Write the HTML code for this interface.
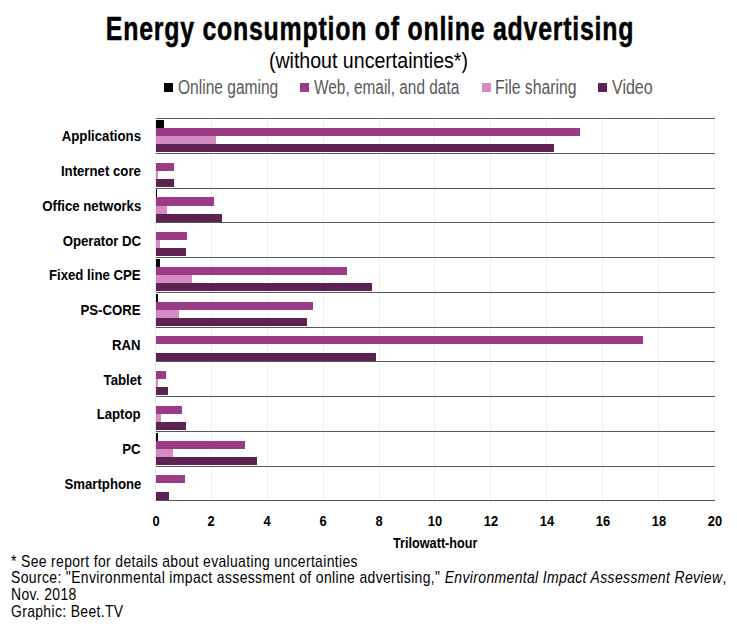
<!DOCTYPE html>
<html><head><meta charset="utf-8">
<style>
html,body{margin:0;padding:0;background:#fff;width:737px;height:638px;overflow:hidden;position:relative}
div{position:absolute;white-space:nowrap;line-height:1}
.g{top:118px;width:1px;height:383px;background:#f0f0f0}
.b{}
.h{left:156px;width:559px;height:1px;background:#595959}
.title{left:2px;width:737px;top:10px;text-align:center;font:bold 32.8px "Liberation Sans",sans-serif;color:#000}
.title span,.sub span{display:inline-block}
.title span{-webkit-text-stroke:0.5px #000;letter-spacing:1px}
.sub{left:0;width:737px;top:48px;text-align:center;font:22.5px "Liberation Sans",sans-serif;color:#000}
.lg{top:76px;font:20px "Liberation Sans",sans-serif;color:#595959;transform-origin:0 0}
.sq{top:83px;width:9px;height:9px}
.cl{right:596px;font:bold 15.5px "Liberation Sans",sans-serif;color:#000;transform:scaleX(0.852);transform-origin:100% 0}
.tk{top:512px;width:60px;text-align:center;font:bold 15px "Liberation Sans",sans-serif;color:#000;transform:scaleX(0.86)}
.ax{left:393px;top:533.5px;font:bold 15px "Liberation Sans",sans-serif;color:#000;transform:scaleX(0.845);transform-origin:0 0}
.fn{left:11px;font:15.75px "Liberation Sans",sans-serif;color:#000;letter-spacing:0.4px;transform-origin:0 0}
</style></head><body>
<div class="title"><span style="transform:scaleX(0.759)">Energy consumption of online advertising</span></div>
<div class="sub"><span style="transform:scaleX(0.87)">(without uncertainties*)</span></div>
<div class="sq" style="left:164px;background:#000"></div><div class="lg" style="left:178px;transform:scaleX(0.777)">Online gaming</div>
<div class="sq" style="left:300px;background:#9b3b85"></div><div class="lg" style="left:314px;transform:scaleX(0.770)">Web, email, and data</div>
<div class="sq" style="left:482px;background:#d48bc2"></div><div class="lg" style="left:495px;transform:scaleX(0.789)">File sharing</div>
<div class="sq" style="left:598px;background:#5c2352"></div><div class="lg" style="left:612px;transform:scaleX(0.80)">Video</div>
<div class="g" style="left:155px"></div>
<div class="g" style="left:211px"></div>
<div class="g" style="left:267px"></div>
<div class="g" style="left:323px"></div>
<div class="g" style="left:379px"></div>
<div class="g" style="left:434px"></div>
<div class="g" style="left:490px"></div>
<div class="g" style="left:546px"></div>
<div class="g" style="left:602px"></div>
<div class="g" style="left:658px"></div>
<div class="g" style="left:714px"></div>
<div class="b" style="left:156px;top:120px;width:8px;height:8px;background:#000000"></div>
<div class="b" style="left:156px;top:128px;width:424px;height:8px;background:#9b3b85"></div>
<div class="b" style="left:156px;top:136px;width:60px;height:8px;background:#d48bc2"></div>
<div class="b" style="left:156px;top:144px;width:398px;height:8px;background:#5c2352"></div>
<div class="b" style="left:156px;top:163px;width:18px;height:8px;background:#9b3b85"></div>
<div class="b" style="left:156px;top:171px;width:2px;height:8px;background:#d48bc2"></div>
<div class="b" style="left:156px;top:179px;width:18px;height:8px;background:#5c2352"></div>
<div class="b" style="left:156px;top:189px;width:1px;height:8px;background:#000000"></div>
<div class="b" style="left:156px;top:197px;width:58px;height:9px;background:#9b3b85"></div>
<div class="b" style="left:156px;top:206px;width:11px;height:8px;background:#d48bc2"></div>
<div class="b" style="left:156px;top:214px;width:66px;height:8px;background:#5c2352"></div>
<div class="b" style="left:156px;top:232px;width:31px;height:8px;background:#9b3b85"></div>
<div class="b" style="left:156px;top:240px;width:4px;height:8px;background:#d48bc2"></div>
<div class="b" style="left:156px;top:248px;width:30px;height:8px;background:#5c2352"></div>
<div class="b" style="left:156px;top:259px;width:4px;height:8px;background:#000000"></div>
<div class="b" style="left:156px;top:267px;width:191px;height:8px;background:#9b3b85"></div>
<div class="b" style="left:156px;top:275px;width:36px;height:8px;background:#d48bc2"></div>
<div class="b" style="left:156px;top:283px;width:216px;height:8px;background:#5c2352"></div>
<div class="b" style="left:156px;top:294px;width:2px;height:8px;background:#000000"></div>
<div class="b" style="left:156px;top:302px;width:157px;height:8px;background:#9b3b85"></div>
<div class="b" style="left:156px;top:310px;width:23px;height:8px;background:#d48bc2"></div>
<div class="b" style="left:156px;top:318px;width:151px;height:8px;background:#5c2352"></div>
<div class="b" style="left:156px;top:336px;width:487px;height:8px;background:#9b3b85"></div>
<div class="b" style="left:156px;top:353px;width:220px;height:8px;background:#5c2352"></div>
<div class="b" style="left:156px;top:371px;width:10px;height:8px;background:#9b3b85"></div>
<div class="b" style="left:156px;top:379px;width:2px;height:8px;background:#d48bc2"></div>
<div class="b" style="left:156px;top:387px;width:12px;height:8px;background:#5c2352"></div>
<div class="b" style="left:156px;top:406px;width:26px;height:8px;background:#9b3b85"></div>
<div class="b" style="left:156px;top:414px;width:5px;height:8px;background:#d48bc2"></div>
<div class="b" style="left:156px;top:422px;width:30px;height:8px;background:#5c2352"></div>
<div class="b" style="left:156px;top:433px;width:2px;height:8px;background:#000000"></div>
<div class="b" style="left:156px;top:441px;width:89px;height:8px;background:#9b3b85"></div>
<div class="b" style="left:156px;top:449px;width:17px;height:8px;background:#d48bc2"></div>
<div class="b" style="left:156px;top:457px;width:101px;height:8px;background:#5c2352"></div>
<div class="b" style="left:156px;top:475px;width:29px;height:8px;background:#9b3b85"></div>
<div class="b" style="left:156px;top:492px;width:13px;height:8px;background:#5c2352"></div>
<div class="h" style="top:118px"></div>
<div class="h" style="top:153px"></div>
<div class="h" style="top:188px"></div>
<div class="h" style="top:222px"></div>
<div class="h" style="top:257px"></div>
<div class="h" style="top:292px"></div>
<div class="h" style="top:327px"></div>
<div class="h" style="top:361px"></div>
<div class="h" style="top:396px"></div>
<div class="h" style="top:431px"></div>
<div class="h" style="top:466px"></div>
<div class="h" style="top:500px"></div>
<div class="cl" style="top:127.2px">Applications</div><div class="cl" style="top:162.0px">Internet core</div><div class="cl" style="top:196.8px">Office networks</div><div class="cl" style="top:231.5px">Operator DC</div><div class="cl" style="top:266.3px">Fixed line CPE</div><div class="cl" style="top:301.1px">PS-CORE</div><div class="cl" style="top:335.9px">RAN</div><div class="cl" style="top:370.7px">Tablet</div><div class="cl" style="top:405.4px">Laptop</div><div class="cl" style="top:440.2px">PC</div><div class="cl" style="top:475.0px">Smartphone</div>
<div class="tk" style="left:125.5px">0</div><div class="tk" style="left:181.4px">2</div><div class="tk" style="left:237.3px">4</div><div class="tk" style="left:293.2px">6</div><div class="tk" style="left:349.1px">8</div><div class="tk" style="left:405.0px">10</div><div class="tk" style="left:460.9px">12</div><div class="tk" style="left:516.8px">14</div><div class="tk" style="left:572.7px">16</div><div class="tk" style="left:628.6px">18</div><div class="tk" style="left:684.5px">20</div>
<div class="ax">Trilowatt-hour</div>
<div class="fn" style="top:552.5px;transform:scaleX(0.884)">* See report for details about evaluating uncertainties</div>
<div class="fn" style="top:569px;transform:scaleX(0.887)">Source: "Environmental impact assessment of online advertising," <i>Environmental Impact Assessment Review</i>,</div>
<div class="fn" style="top:585.5px;transform:scaleX(0.884)">Nov. 2018</div>
<div class="fn" style="top:602.5px;transform:scaleX(0.884)">Graphic: Beet.TV</div>
</body></html>
